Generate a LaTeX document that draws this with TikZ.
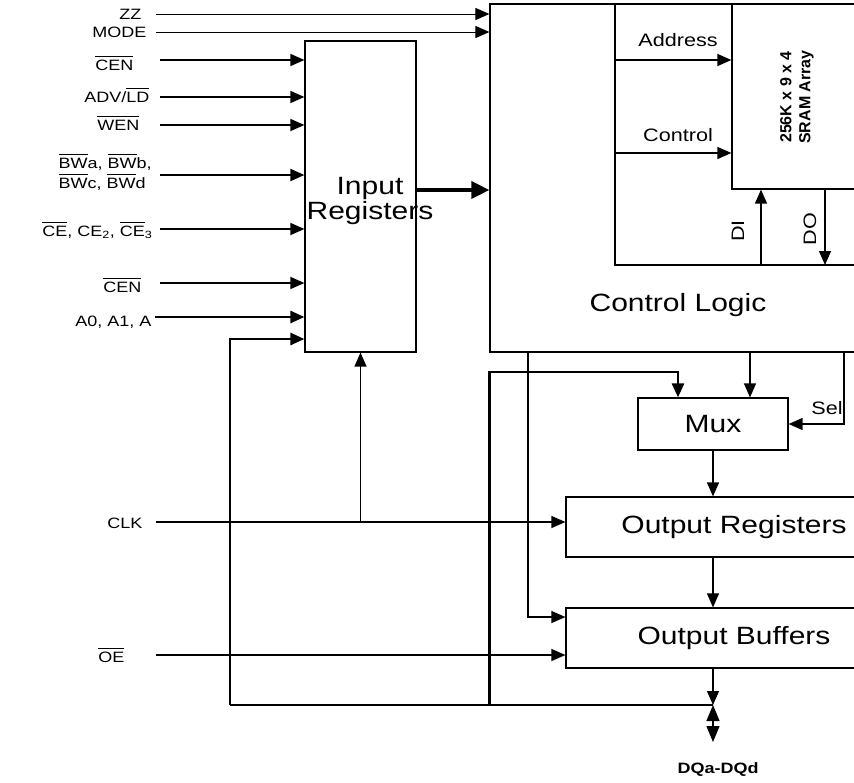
\documentclass[tikz,border=0pt]{standalone}
\usepackage{fontspec}
\setmainfont[FakeStretch=1.2]{Liberation Sans}
\newfontfamily\sramfont{Liberation Sans}
\usetikzlibrary{arrows.meta}

\newcommand{\fsz}[1]{\fontsize{#1}{#1}\selectfont}
\newcommand{\ovl}[1]{\leavevmode\vbox{\hrule height 1.3pt\kern 2.5pt\hbox{#1}}}

\begin{document}
\begin{tikzpicture}[x=1pt,y=-1pt,line width=1.3pt,
  tip/.style={-{Triangle[length=14pt,width=12pt]}},
  bus/.style={line width=2.6pt},
  blk/.style={draw,line width=1.2pt,inner sep=0pt},
  lbl/.style={font=\fsz{15},inner sep=0pt},
  mid/.style={font=\fsz{18},inner sep=0pt},
  big/.style={font=\fontsize{25}{22}\selectfont,inner sep=0pt}]
  \useasboundingbox (0,0) rectangle (854,782);
  \clip (0,0) rectangle (854,782);

  % blocks
  \node[blk, minimum width=111, minimum height=311] (inreg) at (360.5,196.5) {};
  \node[blk, minimum width=376, minimum height=348] (ctrl) at (678,178) {};
  \node[blk, minimum width=132, minimum height=185] (sram) at (798,96.5) {};
  \node[blk, big, minimum width=150, minimum height=52] (mux) at (713,424) {Mux};
  \node[blk, big, minimum width=336, minimum height=60] (oreg) at (734,527) {Output Registers};
  \node[blk, big, minimum width=336, minimum height=60] (obuf) at (734,638) {Output Buffers};

  \node[big, align=center] (inregtxt) at (370,201) {Input\\Registers};
  \node[big] (ctrltxt) at (678,305) {Control Logic};
  \node[font=\sramfont\bfseries\fontsize{16}{19}\selectfont, rotate=90, align=center] (sramtxt) at (797,97) {256K x 9 x 4\\SRAM Array};

  % core of the control logic
  \coordinate (core) at (615,265);
  \draw (core |- ctrl.north) -- (core) -- (core -| ctrl.east);
  \node[mid] (addrtxt) at (678,40) {Address};
  \node[mid] (ctltxt) at (678,135) {Control};
  \draw[tip] (core |- 0,60) -- (sram.west |- 0,60);
  \draw[tip] (core |- 0,153) -- (sram.west |- 0,153);
  \node[mid, rotate=90] (ditxt) at (738,231) {DI};
  \node[mid, rotate=90] (dotxt) at (810,229) {DO};
  \draw[tip] (core -| 761,0) -- (sram.south -| 761,0);
  \draw[tip] (sram.south -| 825,0) -- (core -| 825,0);

  % inputs
  \foreach \n/\y/\ly/\r/\txt in {zz/14/19/142/ZZ, mode/32/37/147/MODE} {
    \node[lbl, anchor=base east] (l\n) at (\r,\ly) {\txt};
    \coordinate (s\n) at (156,\y);
    \draw[tip, line width=1pt] (s\n) -- (s\n -| ctrl.west);
  }
  \foreach \n/\y/\ly/\r/\s/\w/\txt in {
      cena/60/70/134/160/1.4/{\ovl{CEN}},
      adv/97/102/150/160/1.4/{ADV/\ovl{LD}},
      wen/125/130/140/160/1.4/{\ovl{WEN}},
      bw/175/0/0/160/1.9/{},
      ce/229/236/153/160/1.4/{\ovl{CE}, CE\textsubscript{2}, \ovl{CE}\textsubscript{3}},
      cenb/283/292/142/160/1.4/{\ovl{CEN}},
      adr/317/326/152/155/2.6/{A0, A1, A}} {
    \node[lbl, anchor=base east] (l\n) at (\r,\ly) {\txt};
    \coordinate (s\n) at (\s,\y);
    \draw[tip, line width=\w] (s\n) -- (s\n -| inreg.west);
  }
  \node[lbl, anchor=west, align=left, font=\fontsize{15}{20}\selectfont] (lbwtxt) at (58,172)
    {\ovl{BW}a, \ovl{BW}b,\\\ovl{BW}c, \ovl{BW}d};
  \draw[line width=3.5pt, -{Triangle[length=18pt,width=17pt]}] (inreg.east |- 0,190) -- (ctrl.west |- 0,190);

  % clock and output enable
  \node[lbl, anchor=base east] (lclk) at (143,528) {CLK};
  \coordinate (sclk) at (156,522);
  \draw[tip] (sclk) -- (sclk -| oreg.west);
  \draw[tip] (sclk -| inreg.south) -- (inreg.south);
  \node[lbl, anchor=base east] (loe) at (125,662) {\ovl{OE}};
  \coordinate (soe) at (156,655);
  \draw[tip] (soe) -- (soe -| obuf.west);

  % output path
  \coordinate (dq) at (713,705);
  \coordinate (fbl) at (230,339);
  \coordinate (fbr) at (678,372);
  \draw[bus] (fbl |- dq) -- (dq);
  \draw[bus, tip] (fbl |- dq) -- (fbl) -- (fbl -| inreg.west);
  \draw[bus, tip] (dq -| ctrl.west) |- (fbr) -- (fbr |- mux.north);
  \coordinate (cm) at (750,0);
  \draw[tip] (ctrl.south -| cm) -- (mux.north -| cm);
  \coordinate (sel) at (844,424);
  \draw[tip] (sel |- ctrl.south) -- (sel) -- (mux.east);
  \node[mid] (seltxt) at (827,408) {Sel};
  \coordinate (tap) at (528,617);
  \draw[tip] (tap |- ctrl.south) -- (tap) -- (tap -| obuf.west);
  \draw[tip] (mux.south) -- (mux.south |- oreg.north);
  \draw[tip] (oreg.south -| mux) -- (obuf.north -| mux);
  \draw[tip] (obuf.south -| mux) -- (dq);
  \coordinate (dqend) at (713,742);
  \draw[{Triangle[length=16pt,width=13pt]}-{Triangle[length=16pt,width=13pt]}] (dq) -- (dqend);
  \node[font=\bfseries\fsz{15}] (dqtxt) at (718,770) {DQa-DQd};
\end{tikzpicture}
\end{document}
